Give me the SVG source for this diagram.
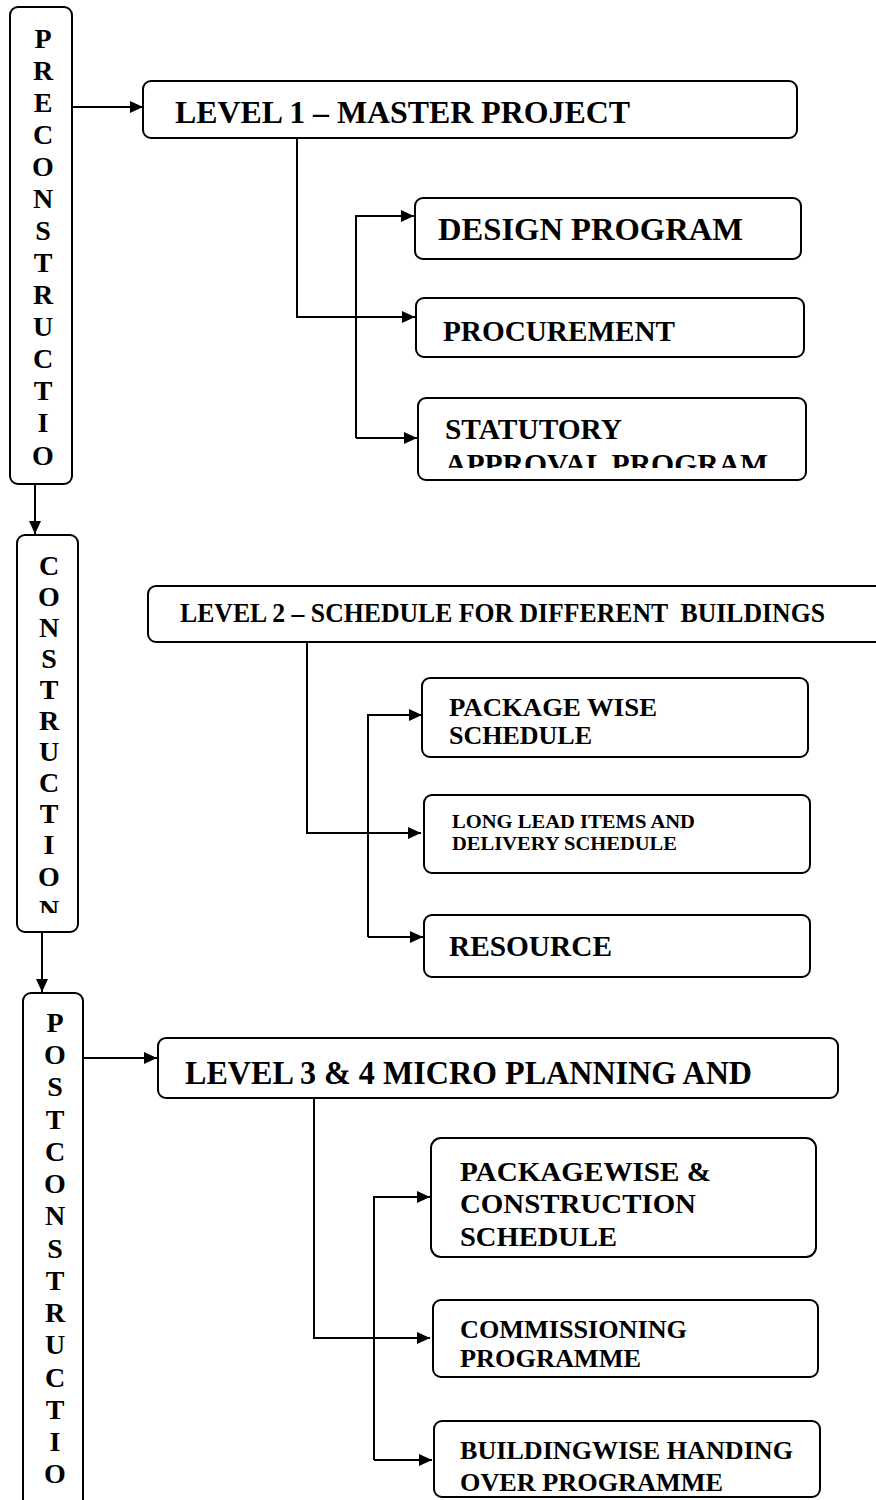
<svg xmlns="http://www.w3.org/2000/svg" width="876" height="1500" viewBox="0 0 876 1500">
<style>
.box{fill:#fff;stroke:#000;stroke-width:2}
.t{font-family:"Liberation Serif","Times New Roman",serif;font-weight:bold;fill:#000}
.v{font-family:"Liberation Serif","Times New Roman",serif;font-weight:bold;fill:#000;font-size:28px;text-anchor:middle}
.c{fill:none;stroke:#000;stroke-width:2}
</style>
<defs>
<marker id="ah" markerUnits="userSpaceOnUse" markerWidth="14" markerHeight="13" refX="13" refY="6.5" orient="auto">
<path d="M0,0.5 L13,6.5 L0,12.5 z" fill="#000"/>
</marker>
<clipPath id="clipN"><rect x="0" y="0" width="100" height="913"/></clipPath>
<clipPath id="clipAP"><rect x="400" y="440" width="420" height="28"/></clipPath>
</defs>
<rect width="876" height="1500" fill="#fff"/>

<g id="connectors">
<path class="c" d="M72,107 H143" marker-end="url(#ah)"/>
<path class="c" d="M297,138 V317 H415" marker-end="url(#ah)"/>
<path class="c" d="M356,438 V216 H414" marker-end="url(#ah)"/>
<path class="c" d="M356,438 H417" marker-end="url(#ah)"/>
<path class="c" d="M35,484 V534" marker-end="url(#ah)"/>
<path class="c" d="M307,642 V833 H421" marker-end="url(#ah)"/>
<path class="c" d="M368,937 V715 H422" marker-end="url(#ah)"/>
<path class="c" d="M368,937 H423" marker-end="url(#ah)"/>
<path class="c" d="M42,932 V992" marker-end="url(#ah)"/>
<path class="c" d="M83,1058 H157" marker-end="url(#ah)"/>
<path class="c" d="M314,1098 V1338 H430" marker-end="url(#ah)"/>
<path class="c" d="M374,1460 V1197 H430" marker-end="url(#ah)"/>
<path class="c" d="M374,1460 H432" marker-end="url(#ah)"/>
</g>

<g id="preconstruction">
<rect class="box" x="10" y="7" width="62" height="477" rx="8"/>
<text class="v" x="43" y="48">P</text>
<text class="v" x="43" y="80">R</text>
<text class="v" x="43" y="112">E</text>
<text class="v" x="43" y="144">C</text>
<text class="v" x="43" y="176">O</text>
<text class="v" x="43" y="208">N</text>
<text class="v" x="43" y="240">S</text>
<text class="v" x="43" y="272">T</text>
<text class="v" x="43" y="304">R</text>
<text class="v" x="43" y="336">U</text>
<text class="v" x="43" y="368">C</text>
<text class="v" x="43" y="400">T</text>
<text class="v" x="43" y="432">I</text>
<text class="v" x="43" y="465">O</text>
</g>

<g id="level1">
<rect class="box" x="143" y="81" width="654" height="57" rx="8"/>
<text class="t" x="175" y="123" font-size="32" textLength="455" lengthAdjust="spacingAndGlyphs">LEVEL 1 – MASTER PROJECT</text>
</g>

<g id="design">
<rect class="box" x="415" y="198" width="386" height="61" rx="8"/>
<text class="t" x="438" y="240" font-size="32" textLength="305" lengthAdjust="spacingAndGlyphs">DESIGN PROGRAM</text>
</g>

<g id="procurement">
<rect class="box" x="416" y="298" width="388" height="59" rx="8"/>
<text class="t" x="443" y="341" font-size="30" textLength="232" lengthAdjust="spacingAndGlyphs">PROCUREMENT</text>
</g>

<g id="statutory">
<rect class="box" x="418" y="398" width="388" height="82" rx="8"/>
<text class="t" x="445" y="439" font-size="30" textLength="177" lengthAdjust="spacingAndGlyphs">STATUTORY</text>
<text class="t" x="445" y="474" font-size="30" textLength="323" lengthAdjust="spacingAndGlyphs" clip-path="url(#clipAP)">APPROVAL PROGRAM</text>
</g>

<g id="construction">
<rect class="box" x="17" y="535" width="61" height="397" rx="8"/>
<text class="v" x="49" y="575">C</text>
<text class="v" x="49" y="606">O</text>
<text class="v" x="49" y="637">N</text>
<text class="v" x="49" y="668">S</text>
<text class="v" x="49" y="699">T</text>
<text class="v" x="49" y="730">R</text>
<text class="v" x="49" y="761">U</text>
<text class="v" x="49" y="792">C</text>
<text class="v" x="49" y="823">T</text>
<text class="v" x="49" y="854">I</text>
<text class="v" x="49" y="886">O</text>
<text class="v" x="49" y="919" clip-path="url(#clipN)">N</text>
</g>

<g id="level2">
<rect class="box" x="148" y="586" width="740" height="56" rx="8"/>
<text class="t" x="180" y="622" font-size="27" textLength="645" lengthAdjust="spacingAndGlyphs" style="white-space:pre">LEVEL 2 – SCHEDULE FOR DIFFERENT  BUILDINGS</text>
</g>

<g id="packagewise">
<rect class="box" x="422" y="678" width="386" height="79" rx="8"/>
<text class="t" x="449" y="716" font-size="25" textLength="208" lengthAdjust="spacingAndGlyphs">PACKAGE WISE</text>
<text class="t" x="449" y="744" font-size="25" textLength="143" lengthAdjust="spacingAndGlyphs">SCHEDULE</text>
</g>

<g id="longlead">
<rect class="box" x="424" y="795" width="386" height="78" rx="8"/>
<text class="t" x="452" y="828" font-size="19" textLength="243" lengthAdjust="spacingAndGlyphs">LONG LEAD ITEMS AND</text>
<text class="t" x="452" y="850" font-size="19" textLength="225" lengthAdjust="spacingAndGlyphs">DELIVERY SCHEDULE</text>
</g>

<g id="resource">
<rect class="box" x="424" y="915" width="386" height="62" rx="8"/>
<text class="t" x="449" y="956" font-size="29" textLength="163" lengthAdjust="spacingAndGlyphs">RESOURCE</text>
</g>

<g id="postconstruction">
<rect class="box" x="23" y="993" width="60" height="520" rx="8"/>
<text class="v" x="55" y="1032">P</text>
<text class="v" x="55" y="1064">O</text>
<text class="v" x="55" y="1096">S</text>
<text class="v" x="55" y="1129">T</text>
<text class="v" x="55" y="1161">C</text>
<text class="v" x="55" y="1193">O</text>
<text class="v" x="55" y="1225">N</text>
<text class="v" x="55" y="1258">S</text>
<text class="v" x="55" y="1290">T</text>
<text class="v" x="55" y="1322">R</text>
<text class="v" x="55" y="1354">U</text>
<text class="v" x="55" y="1387">C</text>
<text class="v" x="55" y="1419">T</text>
<text class="v" x="55" y="1451">I</text>
<text class="v" x="55" y="1483">O</text>
</g>

<g id="level3">
<rect class="box" x="158" y="1038" width="680" height="60" rx="8"/>
<text class="t" x="185" y="1084" font-size="34" textLength="567" lengthAdjust="spacingAndGlyphs">LEVEL 3 &amp; 4 MICRO PLANNING AND</text>
</g>

<g id="packagewise-construction">
<rect class="box" x="431" y="1138" width="385" height="119" rx="10"/>
<text class="t" x="460" y="1181" font-size="27" textLength="251" lengthAdjust="spacingAndGlyphs">PACKAGEWISE &amp;</text>
<text class="t" x="460" y="1213" font-size="27" textLength="236" lengthAdjust="spacingAndGlyphs">CONSTRUCTION</text>
<text class="t" x="460" y="1246" font-size="27" textLength="157" lengthAdjust="spacingAndGlyphs">SCHEDULE</text>
</g>

<g id="commissioning">
<rect class="box" x="433" y="1300" width="385" height="77" rx="8"/>
<text class="t" x="460" y="1338" font-size="26" textLength="227" lengthAdjust="spacingAndGlyphs">COMMISSIONING</text>
<text class="t" x="460" y="1367" font-size="26" textLength="181" lengthAdjust="spacingAndGlyphs">PROGRAMME</text>
</g>

<g id="buildingwise">
<rect class="box" x="434" y="1421" width="386" height="76" rx="8"/>
<text class="t" x="460" y="1459" font-size="26" textLength="333" lengthAdjust="spacingAndGlyphs">BUILDINGWISE HANDING</text>
<text class="t" x="460" y="1491" font-size="26" textLength="263" lengthAdjust="spacingAndGlyphs">OVER PROGRAMME</text>
</g>
</svg>
